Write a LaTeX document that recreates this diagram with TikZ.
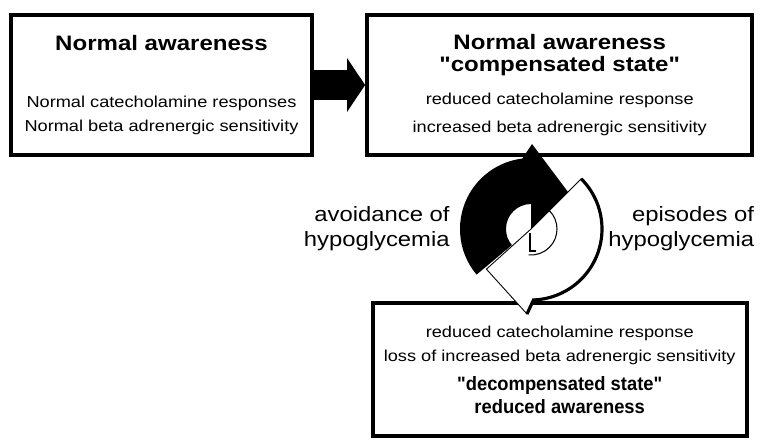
\documentclass[tikz,border=0pt]{standalone}
\usepackage{fontspec}
\setmainfont{Liberation Sans}[FakeStretch=1.15, Ligatures=TeXOff]
\newfontfamily\statefont{Liberation Sans}[FakeStretch=0.95, Ligatures=TeXOff]
\usetikzlibrary{positioning, arrows.meta}
\newcommand{\ttlfont}{\fontsize{11.9}{12.5}\selectfont\bfseries}
\newcommand{\txtfont}{\fontsize{9}{13.7}\selectfont}
\newcommand{\lblfont}{\fontsize{11.8}{14.2}\selectfont}
\newcommand{\dcfont}{\statefont\fontsize{11}{13}\selectfont\bfseries}

\begin{document}
\begin{tikzpicture}[node distance=1.02cm, every node/.style={font=\txtfont},
  box/.style={draw, line width=2.4pt, align=center, inner sep=0pt},
  lbl/.style={align=right, inner sep=0pt, font=\lblfont},
  fatarrow/.style={line width=0.6cm, -{Triangle[length=0.36cm, width=1.06cm]}},
  cycwhite/.style={draw, fill=white, line width=0.5pt}]
\useasboundingbox (0,0) rectangle (15.2,8.82);

% the three states
\node[box, minimum width=6.02cm, minimum height=2.8cm] (normal) at (3.23,7.12) {{\ttlfont Normal awareness}\\[18.5pt]Normal catecholamine responses\\Normal beta adrenergic sensitivity};
\node[box, minimum width=7.7cm, minimum height=2.8cm, right=of normal] (comp) {{\ttlfont Normal awareness}\\[-1.2pt]{\ttlfont "compensated state"}\\[5.3pt]reduced catecholamine response\\[2.3pt]increased beta adrenergic sensitivity};
\node[box, minimum width=7.48cm, minimum height=2.66cm, below=2.88cm of comp] (decomp) {reduced catecholamine response\\loss of increased beta adrenergic sensitivity\\[2.5pt]{\dcfont "decompensated state"}\\[-0.7pt]{\dcfont reduced awareness}};

\draw[fatarrow] (normal.east) -- (comp.west);

% cycle between compensated and decompensated
\coordinate (hub) at (10.62,4.24);
\draw[cycwhite, shift={(hub)}] (0,0) -- (45:1.42) arc[start angle=45, end angle=-88, radius=1.42] -- (-0.08,-1.70) -- (222:1.2) -- cycle;
\draw[line width=1.8pt, shift={(hub)}] (45:1.42) arc[start angle=45, end angle=-88, radius=1.42] -- (-0.08,-1.70);
\draw[line width=0.6pt, shift={(hub)}] (45:0.52) arc[start angle=45, end angle=-95, radius=0.52];
\draw[line width=1.3pt, shift={(hub)}] (-0.02,-0.08) -- (-0.02,-0.44) -- (0.1,-0.44);
\fill[shift={(hub)}] (0,0) -- (90:0.5) arc[start angle=90, end angle=220, radius=0.5] -- (220:1.42) arc[start angle=220, end angle=97, radius=1.42] -- (0.02,1.7) -- (0.74,0.74) -- cycle;

\node[lbl, left=1.62cm of hub] (avoid) {avoidance of\\hypoglycemia};
\node[lbl, right=1.54cm of hub] (episodes) {episodes of\\hypoglycemia};
\end{tikzpicture}
\end{document}
